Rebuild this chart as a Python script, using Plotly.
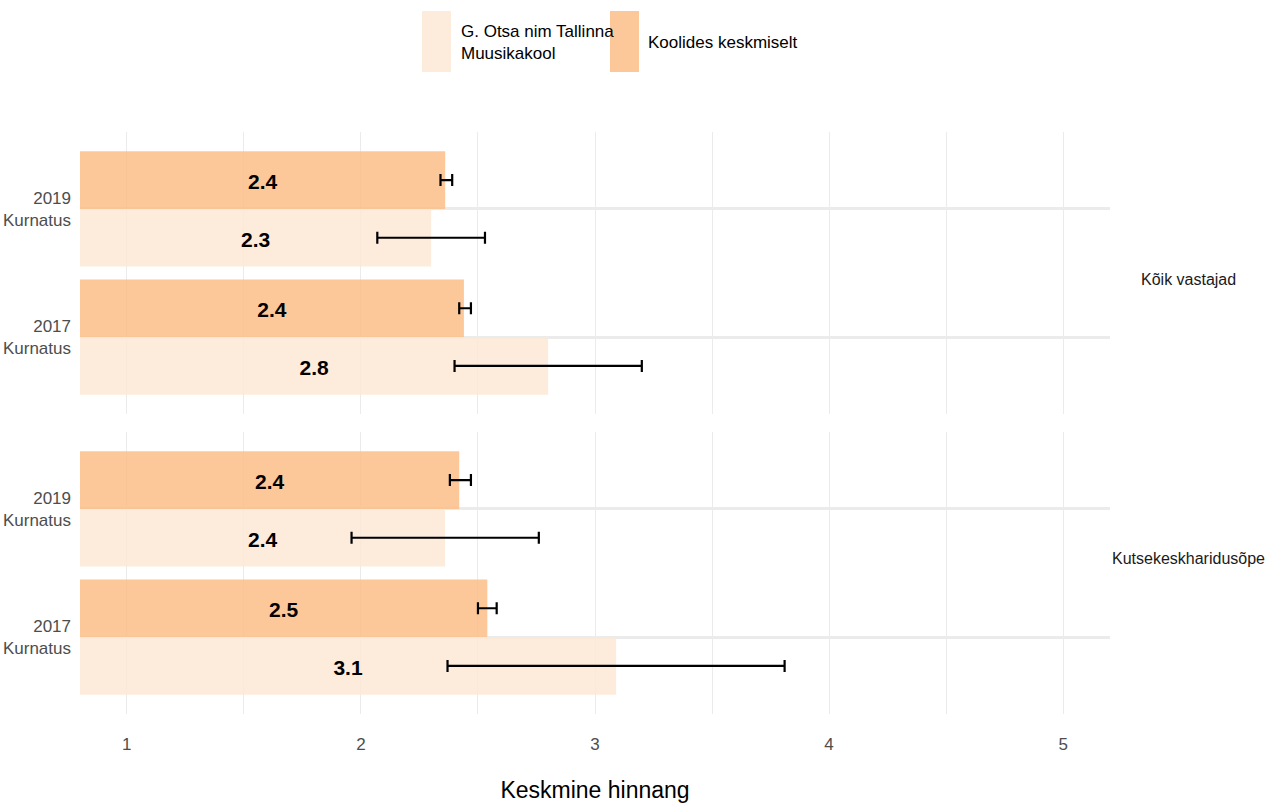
import plotly.graph_objects as go
from plotly.subplots import make_subplots

# data
groups = ['Kõik vastajad', 'Kutsekeskharidusõpe']
years = ['2019', '2017']
indicator = 'Kurnatus'
series = ['G. Otsa nim Tallinna Muusikakool', 'Koolides keskmiselt']
legend_text = ['G. Otsa nim Tallinna<br>Muusikakool', 'Koolides keskmiselt']

# per group, per year (2019, 2017)
school_mean = [[2.30, 2.80], [2.36, 3.09]]
school_lo = [[2.07, 2.40], [1.96, 2.37]]
school_hi = [[2.53, 3.20], [2.76, 3.81]]
avg_mean = [[2.36, 2.44], [2.42, 2.54]]
avg_lo = [[2.34, 2.42], [2.38, 2.50]]
avg_hi = [[2.39, 2.47], [2.47, 2.58]]

colors = ['rgba(253,232,214,0.85)', 'rgba(252,190,136,0.85)']
xmin, xmax = 0.8, 5.2
FONT = 'Liberation Sans, Arial, sans-serif'

W, H = 1270, 811
fig = make_subplots(rows=2, cols=1, shared_xaxes=True, vertical_spacing=0.02)

ypos = [1, 0]  # 2019 on top
bar_w = 0.45
for r in range(2):
    for si, (mean, lo, hi) in enumerate([(school_mean, school_lo, school_hi),
                                          (avg_mean, avg_lo, avg_hi)]):
        m = mean[r]
        fig.add_trace(go.Bar(
            y=ypos, x=m, orientation='h', name=series[si],
            marker=dict(color=colors[si], line=dict(width=0)),
            error_x=dict(type='data', symmetric=False,
                         array=[h - v for h, v in zip(hi[r], m)],
                         arrayminus=[v - l for v, l in zip(m, lo[r])],
                         color='black', thickness=2.2, width=6),
            showlegend=False, hoverinfo='x+y'),
            row=r + 1, col=1)
        off = (-0.5 + si) * bar_w
        fig.add_trace(go.Scatter(
            x=[(v + xmin) / 2 for v in m],
            y=[p + off - 0.03 for p in ypos],
            mode='text', text=[f'{v:.1f}' for v in m],
            textfont=dict(family=FONT, size=21, color='black', weight='bold'),
            showlegend=False, hoverinfo='skip'),
            row=r + 1, col=1)

x0, x1 = 80 / W, 1110 / W
doms = [(1 - 414 / H, 1 - 132 / H), (1 - 714 / H, 1 - 432 / H)]
fig.update_layout(
    width=W, height=H, margin=dict(l=0, r=0, t=0, b=0),
    paper_bgcolor='white', plot_bgcolor='white',
    barmode='group', bargap=0.1, bargroupgap=0,
    font=dict(family=FONT, color='#4D4D4D'),
    showlegend=False,
    xaxis=dict(domain=[x0, x1]), xaxis2=dict(domain=[x0, x1]),
    yaxis=dict(domain=doms[0]), yaxis2=dict(domain=doms[1]),
)
for r in (1, 2):
    fig.update_xaxes(range=[xmin, xmax], tick0=1, dtick=1, showgrid=True,
                     gridcolor='#EBEBEB', gridwidth=1.3, zeroline=False,
                     minor=dict(tick0=0.5, dtick=0.5, showgrid=True,
                                gridcolor='#EBEBEB', gridwidth=1.3),
                     showline=False, ticks='', automargin=False,
                     ticklabelstandoff=18,
                     tickfont=dict(size=17, color='#4D4D4D'),
                     showticklabels=(r == 2), row=r, col=1)
    fig.update_yaxes(range=[-0.6, 1.6], tickvals=ypos,
                     ticktext=[f'{y}<br>{indicator}' for y in years],
                     showgrid=True, gridcolor='#EBEBEB', gridwidth=2.5,
                     zeroline=False, showline=False, ticks='', automargin=False,
                     ticklabelstandoff=8,
                     tickfont=dict(size=17, color='#4D4D4D'), row=r, col=1)
fig.update_xaxes(title=dict(text='Keskmine hinnang', standoff=28,
                            font=dict(size=23, color='black')), row=2, col=1)

# facet strip labels
for r, g in enumerate(groups):
    fig.add_annotation(text=g, xref='paper', yref='paper',
                       x=1188 / W, y=sum(doms[r]) / 2 + 0.005,
                       showarrow=False, xanchor='center',
                       font=dict(size=16, color='#1A1A1A'))

# legend drawn as keys and labels on top
key_x = [422, 610]
text_x = [459, 646]
for i in range(2):
    fig.add_shape(type='rect', xref='paper', yref='paper',
                  x0=key_x[i] / W, x1=(key_x[i] + 29) / W,
                  y0=1 - 72 / H, y1=1 - 11 / H,
                  fillcolor=colors[i], line=dict(width=0))
    fig.add_annotation(text=legend_text[i], xref='paper', yref='paper',
                       x=text_x[i] / W, y=1 - 43 / H, xanchor='left',
                       yanchor='middle', align='left', showarrow=False,
                       font=dict(size=17, color='black'))

fig.write_html('out.html', config={'displayModeBar': False},
               post_script="document.body.style.margin='0';")
